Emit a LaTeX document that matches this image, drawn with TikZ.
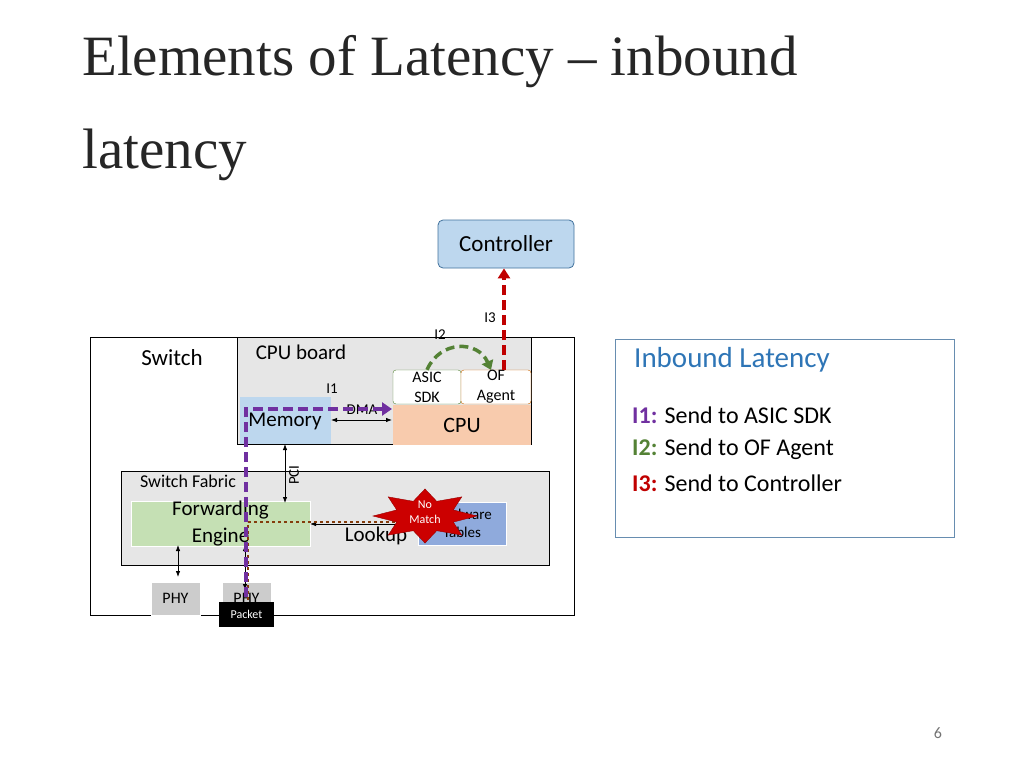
\documentclass[tikz,border=0pt]{standalone}
\usepackage{fontspec}
\setmainfont{Carlito}
\newfontfamily\titlefont{Liberation Serif}
\usetikzlibrary{shapes.geometric,arrows.meta}
\definecolor{gbox}{HTML}{E6E6E6}
\definecolor{lblue}{HTML}{BDD7EE}
\definecolor{dblue}{HTML}{41719C}
\definecolor{cpuc}{HTML}{F8CBAD}
\definecolor{fwd}{HTML}{C5E0B4}
\definecolor{hw}{HTML}{8FAADC}
\definecolor{pur}{HTML}{7030A0}
\definecolor{grn}{HTML}{548235}
\definecolor{red2}{HTML}{C00000}
\definecolor{brn}{HTML}{843C0C}
\definecolor{ttl}{HTML}{2E75B6}
\begin{document}
\begin{tikzpicture}[x=1pt,y=-1pt,
  small/.style={inner sep=0pt,font=\fontsize{15}{17}\selectfont},
  dbl/.style={{Latex[length=6pt]}-{Latex[length=6pt]},thick}]
\useasboundingbox (0,0) rectangle (1024,768);
\node[anchor=base west,inner sep=0pt,font=\titlefont\fontsize{57}{60}\selectfont,text=black!85] (t1) at (82,75) {Elements of Latency \textendash{} inbound};
\node[anchor=base west,inner sep=0pt,font=\titlefont\fontsize{57}{60}\selectfont,text=black!85] (t2) at (82,168) {latency};
% controller
\node[draw=dblue,thick,fill=lblue,rounded corners=5pt,minimum width=136pt,minimum height=48pt,font=\fontsize{23}{25}\selectfont] (ctrl) at (506,244) {Controller};
% switch
\draw[thick] (90,337) rectangle (574,615);
\node[inner sep=0pt,font=\fontsize{23}{25}\selectfont] (sw) at (172,358) {Switch};
\draw[thick,fill=gbox] (237,337) rectangle (531,444);
\node[inner sep=0pt,font=\fontsize{21}{23}\selectfont] (cb) at (301,352) {CPU board};
\node[fill=lblue,minimum width=91pt,minimum height=47pt,inner sep=0pt] (mem) at (285.5,420.5) {};
\node[inner sep=0pt,font=\fontsize{21}{23}\selectfont] at (285,421) {Memory};
\node[fill=cpuc,minimum width=138pt,minimum height=40pt,inner sep=0pt,font=\fontsize{22}{24}\selectfont] (cpu) at (462,425) {CPU};
\node[draw=grn,fill=white,rounded corners=3pt,minimum width=68pt,minimum height=34pt,inner sep=0pt,align=center,font=\fontsize{16}{20}\selectfont] (asic) at (427,387) {ASIC\\SDK};
\node[draw=orange!80!black,fill=white,rounded corners=3pt,minimum width=70pt,minimum height=34pt,inner sep=0pt,align=center,font=\fontsize{16}{20}\selectfont] (of) at (496,387) {OF\\Agent};
\node[small] (i1) at (332,389) {I1};
\node[small] (i2) at (440,335) {I2};
\node[small] (i3) at (490,318) {I3};
\node[small] (dma) at (362,410) {DMA};
\draw[dbl] (331,420) -- (392,420);
% switch fabric
\draw[thick,fill=gbox] (121,471) rectangle (549,565);
\node[inner sep=0pt,font=\fontsize{18}{20}\selectfont] (sf) at (188,481) {Switch Fabric};
\node[draw=white,fill=fwd,minimum width=179pt,minimum height=42pt,inner sep=0pt,align=center,font=\fontsize{21}{27}\selectfont] (fe) at (220.5,524) {Forwarding\\Engine};
\node[draw=white,fill=hw,minimum width=88pt,minimum height=43pt,inner sep=0pt,align=center,font=\fontsize{15}{18}\selectfont] (hwt) at (462,523.5) {Hardware\\Tables};
\node[inner sep=0pt,font=\fontsize{21}{23}\selectfont] (lk) at (376,536) {Lookup};
\draw[dbl] (285,444) -- (285,503);
\node[small,rotate=90] (pci) at (294,475) {PCI};
% phys
\node[draw=white,fill=black!20,minimum width=49pt,minimum height=33pt,inner sep=0pt,font=\fontsize{16}{18}\selectfont] (phy1) at (175.5,598.5) {PHY};
\node[draw=white,fill=black!20,minimum width=49pt,minimum height=33pt,inner sep=0pt,font=\fontsize{16}{18}\selectfont] (phy2) at (246.5,598.5) {PHY};
\draw[dbl] (178,545) -- (178,577);
\draw[dbl] (245,545) -- (245,590);
\draw[dbl] (310,524) -- (418,524);
% paths
\draw[brn,dashed,line width=1.6pt] (248,612) -- (248,522) -- (420,522);
\node[star,star points=8,star point ratio=1.7,fill=red!80!black,draw=red!60!black,minimum size=104pt,yscale=0.52,inner sep=0pt] (st) at (425,516) {};
\node[align=center,text=white,font=\fontsize{12}{15}\selectfont] at (425,512) {No\\Match};
\draw[pur,line width=3.5pt,dash pattern=on 10pt off 5pt,-{Triangle[length=10pt,width=13pt]}] (246,612) -- (246,409) -- (392,409);
\draw[grn,line width=3.5pt,dash pattern=on 9pt off 5pt,-{Triangle[length=9pt,width=12pt]}] (asic.north) .. controls (440,340) and (478,340) .. (491,370);
\draw[red2,line width=3.5pt,dash pattern=on 10pt off 5pt,-{Triangle[length=10pt,width=12pt]}] (504,370) -- (ctrl.south -| 504,268);
\node[fill=black,text=white,minimum width=55pt,minimum height=25pt,inner sep=0pt,font=\fontsize{12}{13}\selectfont] (pk) at (246.5,614.5) {Packet};
% legend
\draw[draw=dblue!80,thick] (615,339) rectangle (954,537);
\node[anchor=west,inner sep=0pt,text=ttl,font=\fontsize{29}{31}\selectfont] (il) at (634,360) {Inbound Latency};
\node[anchor=west,inner sep=0pt,font=\fontsize{24}{26}\selectfont] (l1) at (632,415) {\textcolor{pur}{\textbf{I1:}} Send to ASIC SDK};
\node[anchor=west,inner sep=0pt,font=\fontsize{24}{26}\selectfont] (l2) at (632,449) {\textcolor{grn}{\textbf{I2:}} Send to OF Agent};
\node[anchor=west,inner sep=0pt,font=\fontsize{24}{26}\selectfont] (l3) at (632,483) {\textcolor{red2}{\textbf{I3:}} Send to Controller};
\node[text=black!55,font=\fontsize{16}{18}\selectfont] (pg) at (938,733) {6};
\end{tikzpicture}
\end{document}
